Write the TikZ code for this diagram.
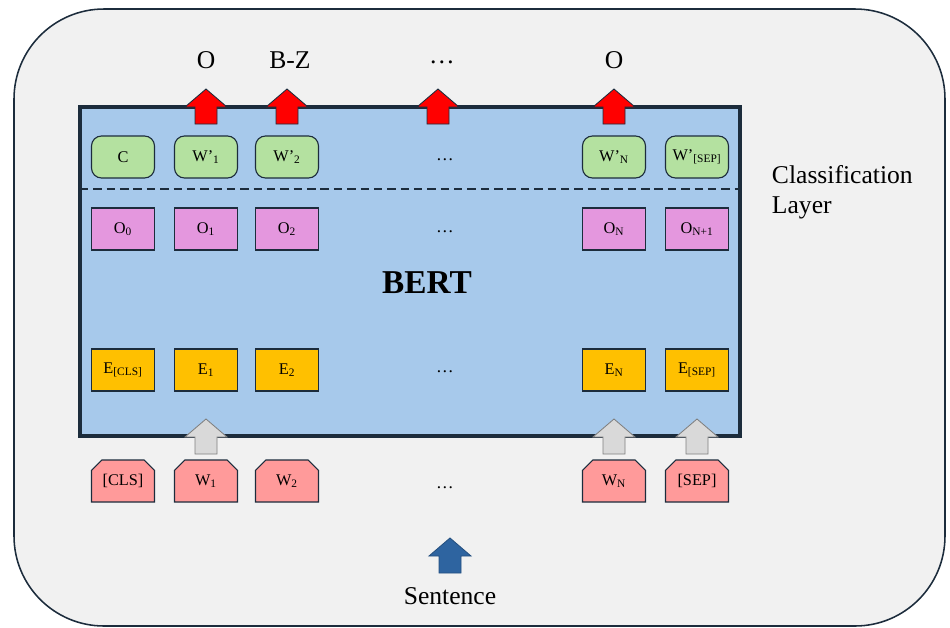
\documentclass[tikz,border=0pt]{standalone}
\usepackage{fontspec}
\setmainfont{Liberation Serif}
\usetikzlibrary{shapes.misc}
\definecolor{cPanel}{RGB}{241,241,241}
\definecolor{cEdge}{RGB}{28,44,60}
\definecolor{cBert}{RGB}{167,201,235}
\definecolor{cCls}{RGB}{180,225,160}
\definecolor{cOut}{RGB}{228,151,222}
\definecolor{cEmb}{RGB}{255,192,0}
\definecolor{cTok}{RGB}{255,154,154}
\definecolor{cGray}{RGB}{217,217,217}
\definecolor{cBlue}{RGB}{46,100,160}
\tikzset{
  cell/.style={draw=cEdge,line width=0.8pt,minimum width=1.575cm,minimum height=1.05cm,
    inner sep=0pt,font=\fontsize{11.6}{13}\selectfont},
  clsbox/.style={cell,fill=cCls,rounded corners=0.25cm},
  outbox/.style={cell,fill=cOut},
  embbox/.style={cell,fill=cEmb},
  tokbox/.style={cell,fill=cTok,chamfered rectangle,chamfered rectangle corners={north west,north east},
    chamfered rectangle xsep=0.13cm,chamfered rectangle ysep=0.13cm},
  dots/.style={font=\fontsize{12.5}{14}\selectfont},
  label/.style={font=\fontsize{18.2}{21.5}\selectfont},
  uparrow/.pic={\draw[pic actions] (-21,0) -- (0,-18) -- (21,0) -- (11,0) -- (11,17) -- (-11,17) -- (-11,0) -- cycle;}
}
\begin{document}
\begin{tikzpicture}[x=0.025cm,y=-0.025cm]
\useasboundingbox (0,0) rectangle (950,627);
% outer panel and the BERT block
\draw[fill=cPanel,draw=cEdge,line width=1.1pt,rounded corners=2.25cm] (14,9) rectangle (945,626);
\draw[fill=cBert,draw=cEdge,line width=2.4pt] (80,107) rectangle (740,436);
\draw[cEdge,line width=1.4pt,dash pattern=on 6pt off 3.5pt] (80,189) -- (740,189);
\node[font=\fontsize{23.7}{28}\selectfont\bfseries] (bert) at (427,283) {BERT};

% classification row
\node[clsbox] (c) at (123,157) {C};
\node[clsbox] (w1c) at (206,157) {W’\textsubscript{1}};
\node[clsbox] (w2c) at (287,157) {W’\textsubscript{2}};
\node[dots] (dc) at (445,160) {\dots};
\node[clsbox] (wnc) at (614,157) {W’\textsubscript{N}};
\node[clsbox] (wsc) at (697,157) {W’\textsubscript{[SEP]}};

% output row
\node[outbox] (o0) at (123,229) {O\textsubscript{0}};
\node[outbox] (o1) at (206,229) {O\textsubscript{1}};
\node[outbox] (o2) at (287,229) {O\textsubscript{2}};
\node[dots] (dout) at (445,232) {\dots};
\node[outbox] (on) at (614,229) {O\textsubscript{N}};
\node[outbox] (on1) at (697,229) {O\textsubscript{N+1}};

% embedding row
\node[embbox] (ecls) at (123,370) {E\textsubscript{[CLS]}};
\node[embbox] (e1) at (206,370) {E\textsubscript{1}};
\node[embbox] (e2) at (287,370) {E\textsubscript{2}};
\node[dots] (demb) at (445,372) {\dots};
\node[embbox] (en) at (614,370) {E\textsubscript{N}};
\node[embbox] (esep) at (697,370) {E\textsubscript{[SEP]}};

% input tokens
\node[tokbox] (tcls) at (123,481) {[CLS]};
\node[tokbox] (t1) at (206,481) {W\textsubscript{1}};
\node[tokbox] (t2) at (287,481) {W\textsubscript{2}};
\node[dots] (dtok) at (445,488) {\dots};
\node[tokbox] (tn) at (614,481) {W\textsubscript{N}};
\node[tokbox] (tsep) at (697,481) {[SEP]};

% predicted tags
\node[label] (tag1) at (206,60) {O};
\node[label] (tag2) at (290,60) {B-Z};
\node[label] (tagd) at (442,62) {\dots};
\node[label] (tagn) at (614,60) {O};

\node[label,anchor=west,align=left] (layer) at (767,192) {Classification\\Layer};
\node[label] (sent) at (450,596) {Sentence};

% block arrows
\pic[fill=red,draw=cEdge,line width=0.6pt] at (206,107) {uparrow};
\pic[fill=red,draw=cEdge,line width=0.6pt] at (287,107) {uparrow};
\pic[fill=red,draw=cEdge,line width=0.6pt] at (438,107) {uparrow};
\pic[fill=red,draw=cEdge,line width=0.6pt] at (614,107) {uparrow};
\pic[fill=cGray,draw=gray,line width=0.6pt] at (206,437) {uparrow};
\pic[fill=cGray,draw=gray,line width=0.6pt] at (614,437) {uparrow};
\pic[fill=cGray,draw=gray,line width=0.6pt] at (697,437) {uparrow};
\pic[fill=cBlue,draw=cBlue!80!black,line width=0.6pt] at (450,556) {uparrow};
\end{tikzpicture}
\end{document}
